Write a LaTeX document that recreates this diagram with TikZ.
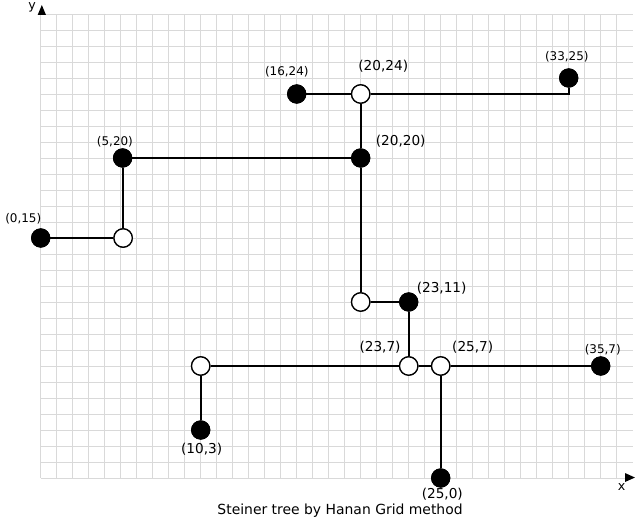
\documentclass[tikz,border=0pt]{standalone}
\usepackage{fontspec}
\setmainfont{DejaVu Sans}
\begin{document}
\begin{tikzpicture}[x=0.4cm,y=0.4cm,
  gridline/.style={draw=black!15,line width=0.7pt},
  edge/.style={draw=black,line width=1.25pt},
  term/.style={circle,fill=black,draw=black,line width=0.6pt,inner sep=0pt,minimum size=0.46cm},
  stpt/.style={circle,fill=white,draw=black,line width=0.9pt,inner sep=0pt,minimum size=0.46cm},
  biglab/.style={inner sep=0pt,font=\fontsize{9.7pt}{11pt}\selectfont},
  smalllab/.style={inner sep=0pt,font=\fontsize{8.5pt}{10pt}\selectfont},
  axlab/.style={inner sep=0pt,font=\fontsize{9pt}{10pt}\selectfont}]
\useasboundingbox (-2.544,-2.625) rectangle (37.456,29.875);
\fill[white] (-2.544,-2.625) rectangle (37.456,29.875);
% grid
\foreach \i in {0,...,36} \draw[gridline] (\i,0) -- (\i,29);
\foreach \j in {0,...,29} \draw[gridline] (0,\j) -- (37,\j);
% axis arrow heads
\fill[black] (-0.19,28.94) -- (0.07,29.56) -- (0.33,28.94) -- cycle;
\fill[black] (36.52,-0.25) -- (37.14,0.03) -- (36.52,0.31) -- cycle;
\node[axlab] (ylab) at (-0.53,29.42) {y};
\node[axlab] (xlab) at (36.31,-0.54) {x};
% nodes
\node[term] (A) at (0,15) {};
\node[term] (B) at (5.12,20) {};
\node[stpt] (S1) at (5.15,15) {};
\node[term] (C) at (16,24) {};
\node[stpt] (S2) at (20,24) {};
\node[term] (D) at (20,20) {};
\node[term] (E) at (33,25) {};
\coordinate (K) at (33,24);
\node[stpt] (S3) at (20,11) {};
\node[term] (F) at (23,11) {};
\node[stpt] (S4) at (23,7) {};
\node[stpt] (S5) at (25,7) {};
\node[term] (G) at (35,7) {};
\node[stpt] (S6) at (10,7) {};
\node[term] (H) at (10,3) {};
\node[term] (I) at (25,0) {};
% edges
\draw[edge] (A) -- (S1);
\draw[edge] (S1) -- (S1 |- B.south);
\draw[edge] (B) -- (D);
\draw[edge] (C) -- (S2);
\draw[edge] (S2) -- (K) -- (E);
\draw[edge] (S2) -- (D);
\draw[edge] (D) -- (S3);
\draw[edge] (S3) -- (F);
\draw[edge] (F) -- (S4);
\draw[edge] (S6) -- (S4);
\draw[edge] (S4) -- (S5);
\draw[edge] (S5) -- (G);
\draw[edge] (S6) -- (H);
\draw[edge] (S5) -- (I);
% redraw circles on top
\node[term] at (A) {};
\node[term] at (B) {};
\node[stpt] at (S1) {};
\node[term] at (C) {};
\node[stpt] at (S2) {};
\node[term] at (D) {};
\node[term] at (E) {};
\node[stpt] at (S3) {};
\node[term] at (F) {};
\node[stpt] at (S4) {};
\node[stpt] at (S5) {};
\node[term] at (G) {};
\node[stpt] at (S6) {};
\node[term] at (H) {};
\node[term] at (I) {};
% labels
\node[smalllab] (lA) at (-1.09,16.19) {(0,15)};
\node[smalllab] (lB) at (4.64,21.02) {(5,20)};
\node[smalllab] (lC) at (15.38,25.39) {(16,24)};
\node[biglab] (lS2) at (21.41,25.71) {(20,24)};
\node[biglab] (lD) at (22.5,21.02) {(20,20)};
\node[smalllab] (lE) at (32.88,26.33) {(33,25)};
\node[biglab] (lF) at (25.06,11.86) {(23,11)};
\node[biglab] (lS4) at (21.21,8.17) {(23,7)};
\node[biglab] (lS5) at (27.0,8.17) {(25,7)};
\node[smalllab] (lG) at (35.13,8.04) {(35,7)};
\node[biglab] (lH) at (10.06,1.79) {(10,3)};
\node[biglab] (lI) at (25.1,-1.02) {(25,0)};
\node[inner sep=0pt,font=\fontsize{9.9pt}{12pt}\selectfont] (cap) at (18.71,-2.04) {Steiner tree by Hanan Grid method};
\end{tikzpicture}
\end{document}
